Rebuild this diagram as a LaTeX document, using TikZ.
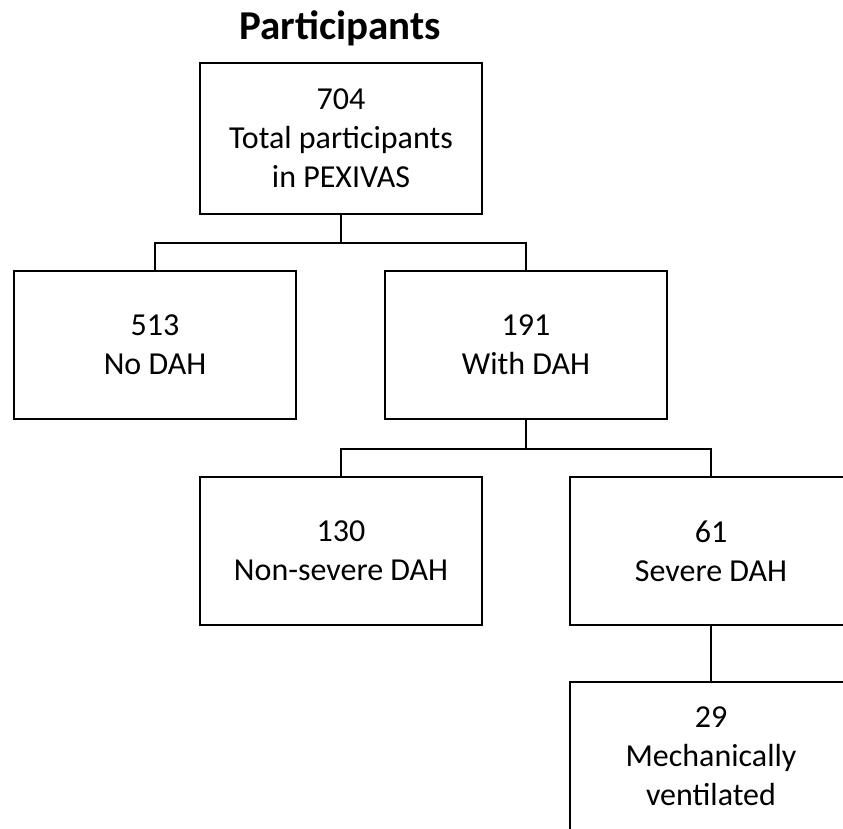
\documentclass[tikz,border=0pt]{standalone}
\usepackage{fontspec}
\setmainfont{Carlito}
\begin{document}
\begin{tikzpicture}[x=1pt,y=1pt,line join=miter,
  box/.style={draw,line width=1.6pt,minimum width=282pt,minimum height=148pt,
    inner sep=0pt,align=center,font=\fontsize{32}{39}\selectfont},
  link/.style={line width=1.6pt}]
 \useasboundingbox (0,0) rectangle (843,-829);
 \clip (0,0) rectangle (843,-829);
 % title and boxes
 \node[font=\fontsize{41}{48}\selectfont\bfseries] (title) at (340,-28) {Participants};
 \node[box,minimum height=151pt] (total) at (341,-138.5)
   {704\\Total participants\\in PEXIVAS};
 \node[box] (nodah) at (155,-345) {513\\No DAH};
 \node[box] (withdah) at (526,-345) {191\\With DAH};
 \node[box] (nonsevere) at (341,-551) {130\\Non-severe DAH};
 \node[box] (severe) at (711,-551) {61\\Severe DAH};
 \node[box] (ventilated) at (711,-756) {29\\Mechanically\\ventilated};
 % connectors
 \draw[link] (total.south) -- ++(0,-28) coordinate (split1);
 \draw[link] (nodah.north) |- (split1) -| (withdah.north);
 \draw[link] (withdah.south) -- ++(0,-29) coordinate (split2);
 \draw[link] (nonsevere.north) |- (split2) -| (severe.north);
 \draw[link] (severe.south) -- (ventilated.north);
\end{tikzpicture}
\end{document}
